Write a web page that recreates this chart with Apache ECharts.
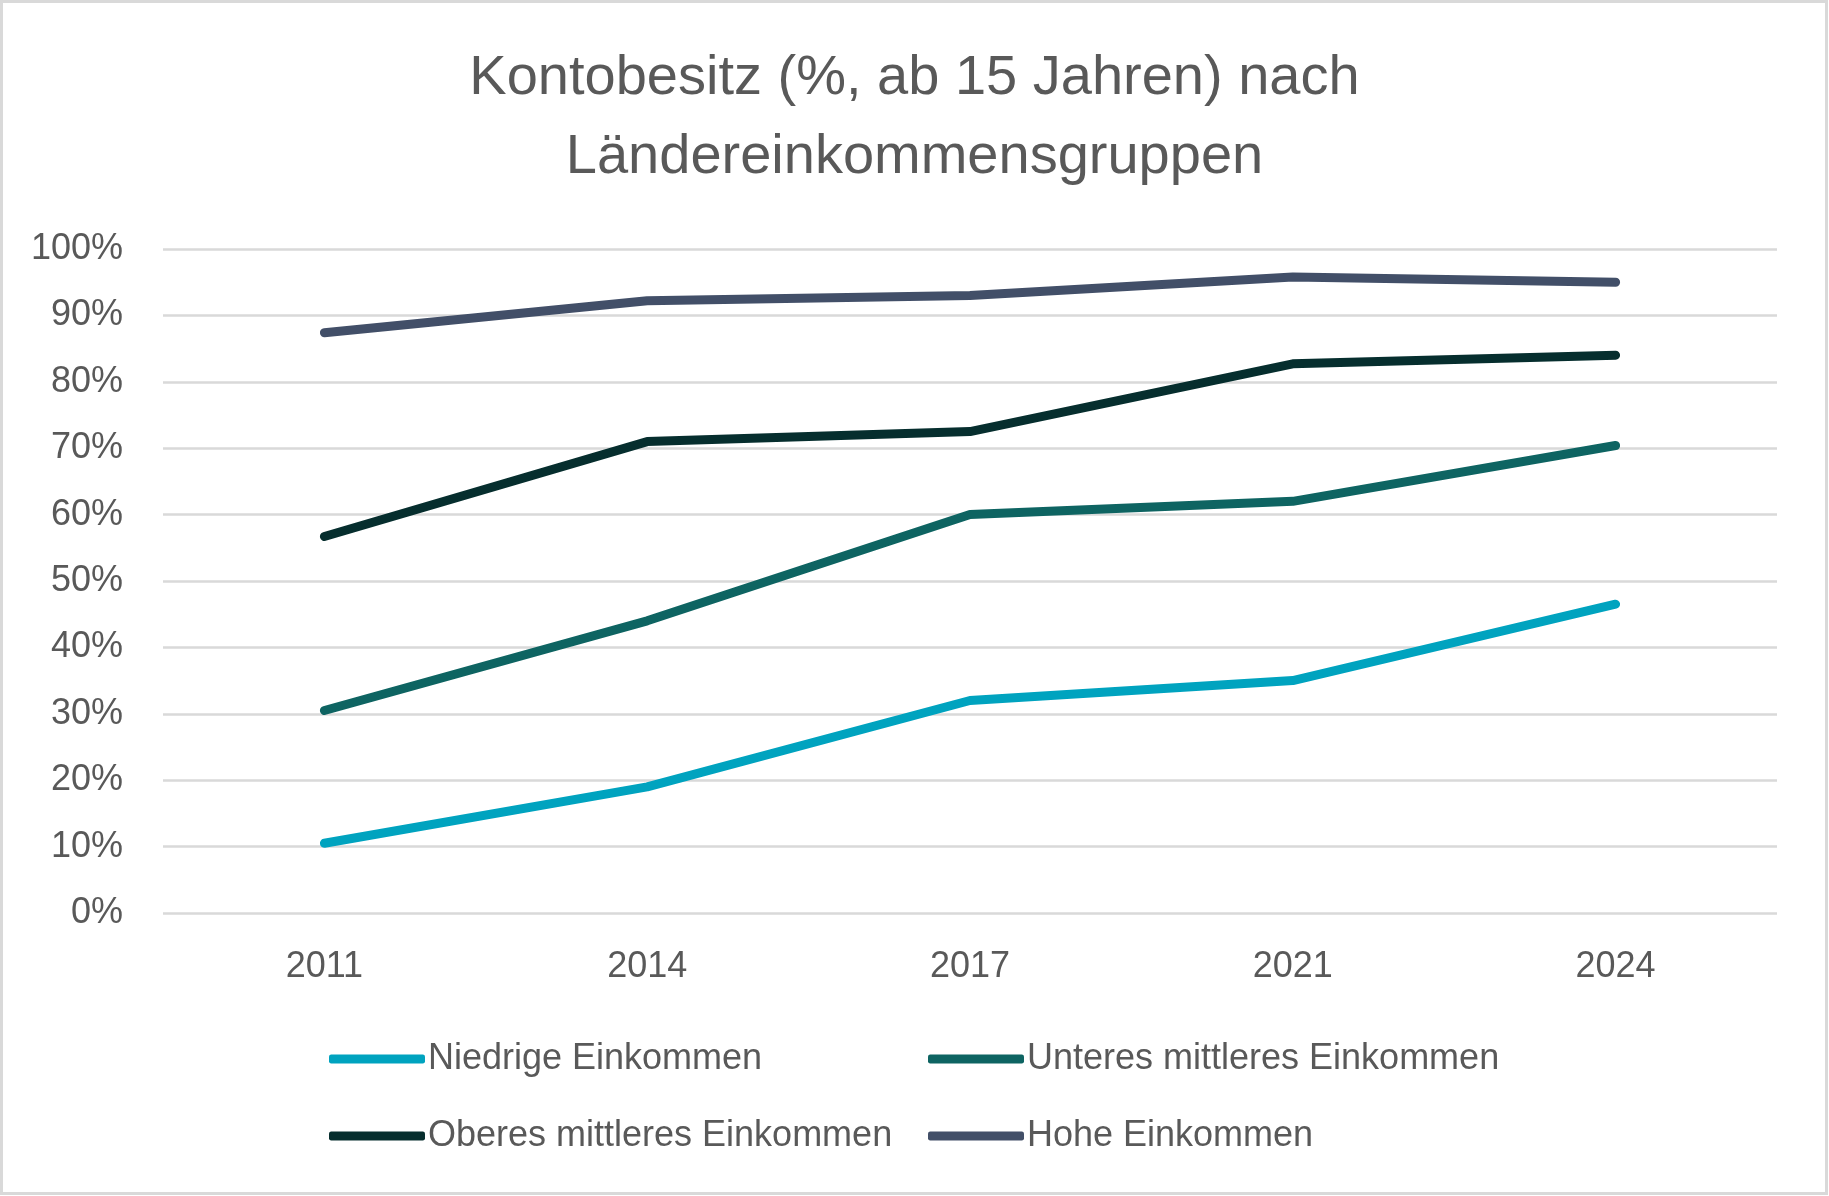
<!DOCTYPE html>
<html>
<head>
<meta charset="utf-8">
<script src="https://cdn.jsdelivr.net/npm/echarts@6/dist/echarts.min.js"></script>
<style>
html,body{margin:0;padding:0;background:#fff;}
#chart{width:1829px;height:1196px;}
</style>
</head>
<body>
<div id="chart"></div>
<script>
const titleText = 'Kontobesitz (%, ab 15 Jahren) nach\nLändereinkommensgruppen';
const categories = ['2011', '2014', '2017', '2021', '2024'];
const seriesNames = ['Niedrige Einkommen', 'Unteres mittleres Einkommen', 'Oberes mittleres Einkommen', 'Hohe Einkommen'];
const niedrige = [10.5, 19.0, 32.0, 35.0, 46.5];
const unteres = [30.5, 44.0, 60.0, 62.0, 70.4];
const oberes = [56.7, 71.0, 72.5, 82.7, 84.0];
const hohe = [87.4, 92.2, 93.0, 95.8, 95.0];
const colors = ['#00A3BF', '#0E6462', '#062E2E', '#424F68'];

const FONT = '"Liberation Sans", Arial, sans-serif';
const TXT = '#595959';
const values = [niedrige, unteres, oberes, hohe];

const legendPos = [
  {left: 324, top: 1036},
  {left: 923, top: 1036},
  {left: 324, top: 1113},
  {left: 923, top: 1113}
];

const chart = echarts.init(document.getElementById('chart'), null, {renderer: 'canvas'});
chart.setOption({
  backgroundColor: '#ffffff',
  animation: false,
  color: colors,
  title: {
    text: titleText,
    left: 'center',
    top: 34,
    textStyle: {fontFamily: FONT, fontSize: 56, fontWeight: 'normal', color: TXT, lineHeight: 79}
  },
  graphic: [{
    type: 'rect',
    shape: {x: 1.5, y: 1.5, width: 1825, height: 1192},
    style: {fill: 'none', stroke: '#D9D9D9', lineWidth: 3},
    silent: true
  }],
  legend: seriesNames.map((n, i) => ({
    data: [n],
    left: legendPos[i].left,
    top: legendPos[i].top,
    icon: 'roundRect',
    itemWidth: 96,
    itemHeight: 9,
    itemGap: 0,
    textStyle: {fontFamily: FONT, fontSize: 36, color: TXT, padding: [0, 0, 0, -2]},
    selectedMode: false
  })),
  grid: {left: 163, right: 52, top: 249, bottom: 283, containLabel: false},
  xAxis: {
    type: 'category',
    data: categories,
    boundaryGap: true,
    axisLine: {show: false},
    axisTick: {show: false},
    axisLabel: {fontFamily: FONT, fontSize: 36, color: TXT, margin: 36}
  },
  yAxis: {
    type: 'value',
    min: 0,
    max: 100,
    interval: 10,
    axisLine: {show: false},
    axisTick: {show: false},
    axisLabel: {fontFamily: FONT, fontSize: 36, color: TXT, margin: 40, formatter: v => v + '%'},
    splitLine: {lineStyle: {color: '#D9D9D9', width: 2.5}}
  },
  series: seriesNames.map((n, i) => ({
    name: n,
    type: 'line',
    data: values[i],
    symbol: 'none',
    smooth: false,
    lineStyle: {width: 9, color: colors[i], cap: 'round', join: 'round'},
    itemStyle: {color: colors[i]}
  }))
});
</script>
</body>
</html>
